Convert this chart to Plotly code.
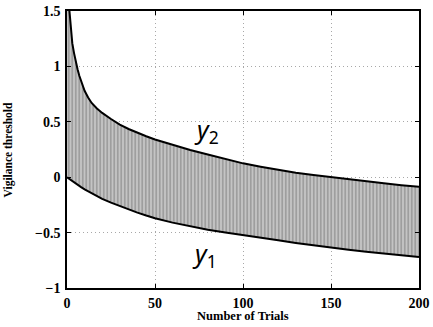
import plotly.graph_objects as go

# Upper curve y2
x_upper = [1, 2, 3, 4, 5, 6, 7, 8, 9, 10, 12, 14, 17, 20, 25, 30, 35, 40, 45, 50, 60, 70, 80,
           90, 100, 110, 120, 130, 140, 150, 160, 170, 180, 190, 200]
y_upper = [1.57, 1.35, 1.21, 1.12, 1.04, 0.975, 0.915, 0.865, 0.82, 0.78, 0.72, 0.67, 0.62,
           0.58, 0.525, 0.475, 0.435, 0.40, 0.37, 0.34, 0.29, 0.245, 0.205, 0.165, 0.125,
           0.095, 0.065, 0.04, 0.02, 0.0, -0.02, -0.038, -0.055, -0.072, -0.087]

# Lower curve y1
x_lower = [0, 1, 2, 3, 4, 5, 6, 8, 10, 12, 15, 20, 25, 30, 35, 40, 45, 50, 60, 70, 80, 90,
           100, 110, 120, 130, 140, 150, 160, 170, 180, 190, 200]
y_lower = [0, -0.012, -0.025, -0.037, -0.048, -0.059, -0.07, -0.09, -0.11, -0.128, -0.155,
           -0.195, -0.23, -0.262, -0.292, -0.32, -0.346, -0.37, -0.41, -0.445, -0.475,
           -0.50, -0.525, -0.548, -0.57, -0.593, -0.615, -0.636, -0.655, -0.673, -0.69,
           -0.705, -0.72]

x_ticks = [0, 50, 100, 150, 200]
y_ticks = [-1, -0.5, 0, 0.5, 1, 1.5]
y_tick_text = ["\u22121", "\u22120.5", "0", "0.5", "1", "1.5"]

fig = go.Figure()

# hatched band between the curves
poly_x = [0] + x_upper + x_lower[::-1]
poly_y = [1.6] + y_upper + y_lower[::-1]
fig.add_trace(go.Scatter(
    x=poly_x, y=poly_y, mode="none", fill="toself",
    fillcolor="#a8a8a8",
    fillpattern=dict(shape="|", fgcolor="#6e6e6e", bgcolor="#c4c4c4", size=3.5, solidity=0.45),
    hoverinfo="skip", showlegend=False,
))

fig.add_trace(go.Scatter(x=x_upper, y=y_upper, mode="lines", line=dict(color="black", width=2),
                         showlegend=False))
fig.add_trace(go.Scatter(x=x_lower, y=y_lower, mode="lines", line=dict(color="black", width=2),
                         showlegend=False))

fig.add_annotation(x=79, y=0.42, text="<i>y</i><sub>2</sub>", showarrow=False,
                   font=dict(family="Noto Sans", size=25, color="black"))
fig.add_annotation(x=78, y=-0.70, text="<i>y</i><sub>1</sub>", showarrow=False,
                   font=dict(family="Noto Sans", size=25, color="black"))

# axis titles
fig.add_annotation(xref="paper", yref="paper", x=0.5, y=-0.101, yanchor="middle",
                   text="<b>Number of Trials</b>", showarrow=False,
                   font=dict(family="Liberation Serif", size=12.5, color="black"))
fig.add_annotation(xref="paper", yref="paper", x=-0.165, y=0.5, xanchor="center",
                   textangle=-90, text="<b>Vigilance threshold</b>", showarrow=False,
                   font=dict(family="Liberation Serif", size=11.5, color="black"))

axis_font = dict(family="Liberation Serif", size=14, color="black")
grid = dict(showgrid=True, gridcolor="#a8a8a8", griddash="1px,3px", gridwidth=1, zeroline=False)
fig.update_layout(
    width=433, height=327,
    margin=dict(l=67, r=14, t=11, b=39),
    paper_bgcolor="white", plot_bgcolor="white",
    font=dict(family="Liberation Serif", color="black"),
    xaxis=dict(
        range=[0, 200], tickvals=x_ticks, ticktext=[f"<b>{v}</b>" for v in x_ticks],
        tickfont=axis_font, ticks="inside", ticklen=4, tickcolor="black",
        showline=True, linecolor="black", linewidth=1.5, mirror="allticks",
        automargin=False, ticklabelstandoff=1,
        **grid,
    ),
    yaxis=dict(
        range=[-1, 1.5], tickvals=y_ticks, ticktext=[f"<b>{t}</b>" for t in y_tick_text],
        tickfont=axis_font, ticks="inside", ticklen=4, tickcolor="black",
        showline=True, linecolor="black", linewidth=1.5, mirror="allticks",
        automargin=False, ticklabelstandoff=2,
        **grid,
    ),
)

fig.write_html("out.html", config={"displayModeBar": False},
               post_script="document.body.style.margin='0';document.body.style.padding='0';")
